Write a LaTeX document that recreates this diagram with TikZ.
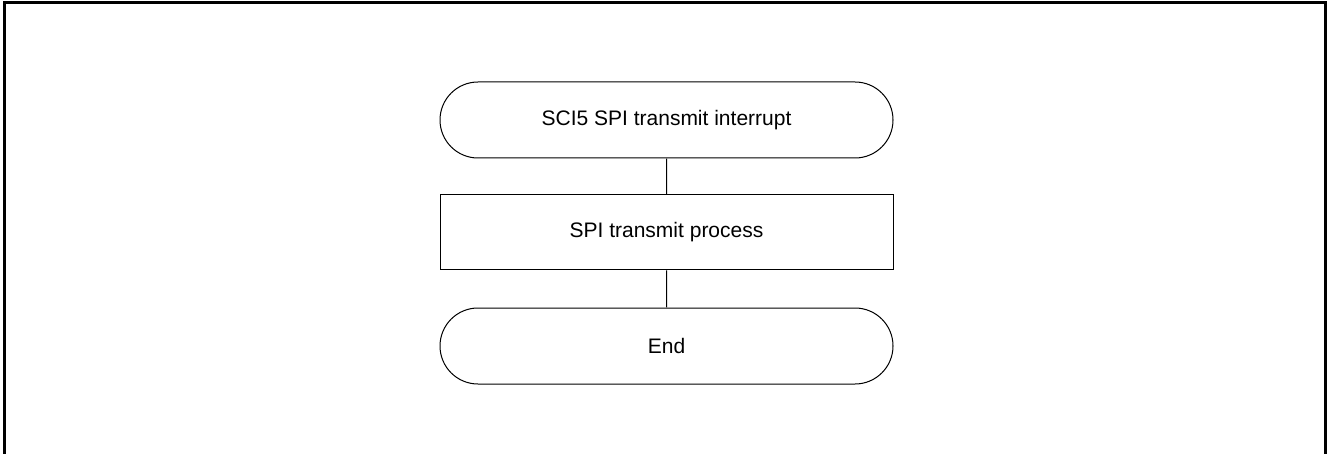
\documentclass[tikz,border=0pt]{standalone}
\usepackage{fontspec}
\setmainfont{Liberation Sans}
\usepackage{tikz}
\usetikzlibrary{calc,shapes,arrows}

\begin{document}
\begin{tikzpicture}[x=1pt,y=-1pt,
        terminal/.style={rounded rectangle, draw, line width=1pt, minimum width=453pt, minimum height=76pt, inner sep=0pt},
        procbox/.style={rectangle, draw, line width=1pt, minimum width=453pt, minimum height=75pt, inner sep=0pt}]
        \useasboundingbox (0,0) rectangle (1327,454);
        \draw[line width=3pt] (4,454) -- (4,3) -- (1325.5,3) -- (1325.5,454);
        \fontsize{21}{25}\selectfont
        \node[terminal] (start) at (666.5,120) {SCI5 SPI transmit interrupt};
        \node[procbox] (transmit) at (666.5,232.5) {SPI transmit process};
        \node[terminal] (stop) at (666.5,346) {End};
        \draw[line width=1pt] (start) -- (transmit);
        \draw[line width=1pt] (transmit) -- (stop);
    \end{tikzpicture}
\end{document}
